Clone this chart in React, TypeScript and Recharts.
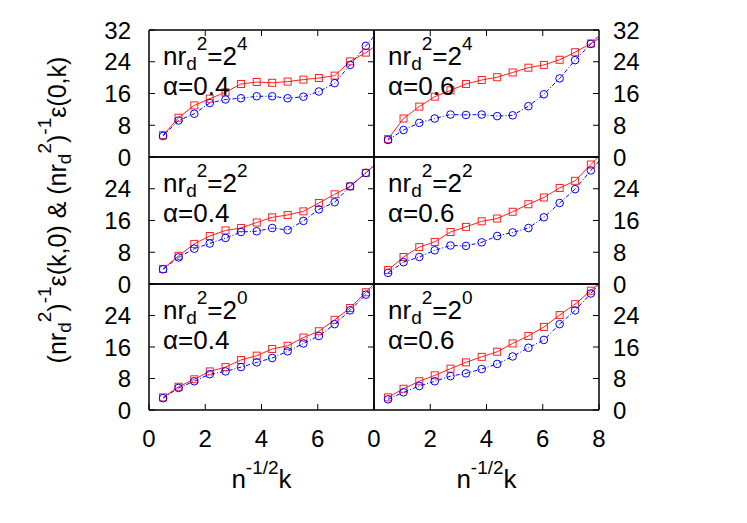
import { LineChart, Line, XAxis, YAxis } from "recharts";

// n^{-1/2} k sample positions (last one falls just past the frame and gets clipped)
const K = [0.5, 1.05, 1.61, 2.16, 2.72, 3.27, 3.83, 4.38, 4.93, 5.49, 6.04, 6.6, 7.15, 7.71, 8.26];

// eps(k,0) -> red squares, eps(0,k) -> blue circles
const RED_16_04 = [5.5, 9.9, 13.0, 14.7, 16.3, 18.4, 18.9, 18.7, 19.0, 19.5, 19.9, 20.5, 24.1, 26.3, 29.0];
const BLUE_16_04 = [5.3, 9.2, 10.9, 13.6, 14.5, 14.8, 15.3, 15.3, 14.8, 15.2, 16.5, 18.6, 23.2, 28.0, 32.5];
const RED_16_06 = [4.5, 9.7, 12.7, 15.2, 16.8, 18.4, 19.4, 20.1, 21.3, 22.5, 23.2, 24.5, 26.4, 28.6, 30.9];
const BLUE_16_06 = [4.3, 6.8, 8.6, 9.7, 10.7, 10.6, 10.7, 10.3, 10.5, 12.8, 15.8, 19.8, 24.4, 28.5, 32.5];
const RED_4_04 = [3.8, 7.1, 10.1, 12.1, 13.5, 14.1, 15.5, 16.8, 17.4, 18.3, 20.4, 22.6, 24.6, 28.0, 31.5];
const BLUE_4_04 = [3.7, 6.7, 8.9, 10.2, 11.6, 13.1, 13.3, 14.1, 13.6, 15.9, 18.8, 20.6, 24.6, 28.0, 31.5];
const RED_4_06 = [3.5, 6.8, 9.3, 10.6, 13.1, 14.4, 15.8, 16.5, 18.2, 20.1, 21.8, 24.2, 26.0, 30.1, 34.0];
const BLUE_4_06 = [2.8, 5.5, 6.8, 8.5, 9.7, 9.6, 10.5, 12.1, 13.0, 14.1, 16.8, 20.4, 23.9, 28.6, 33.0];
const RED_1_04 = [3.2, 5.9, 7.8, 9.8, 10.9, 12.7, 13.8, 15.5, 16.3, 18.4, 20.0, 22.9, 25.9, 29.9, 34.0];
const BLUE_1_04 = [3.0, 5.6, 7.3, 9.1, 9.8, 10.9, 12.1, 13.2, 14.9, 16.9, 18.8, 21.8, 25.3, 29.3, 33.5];
const RED_1_06 = [3.2, 5.4, 7.3, 8.8, 10.5, 12.1, 13.5, 14.8, 16.9, 18.8, 21.1, 24.1, 26.9, 30.3, 33.8];
const BLUE_1_06 = [2.7, 4.5, 6.1, 7.3, 8.6, 9.3, 10.4, 11.7, 13.6, 15.8, 17.8, 21.8, 25.3, 29.6, 34.0];

const POWERS = ["4", "2", "0"];
const ALPHAS = ["0.4", "0.6"];

const PANELS = [
  { row: 0, col: 0, red: RED_16_04, blue: BLUE_16_04 },
  { row: 0, col: 1, red: RED_16_06, blue: BLUE_16_06 },
  { row: 1, col: 0, red: RED_4_04, blue: BLUE_4_04 },
  { row: 1, col: 1, red: RED_4_06, blue: BLUE_4_06 },
  { row: 2, col: 0, red: RED_1_04, blue: BLUE_1_04 },
  { row: 2, col: 1, red: RED_1_06, blue: BLUE_1_06 },
];

const FONT = '"Liberation Sans", Arial, Helvetica, sans-serif';
const COL_LEFT = [149, 374];
const ROW_TOP = [30, 157, 284];
const ROW_H = [127, 127, 126];
const PLOT_W = 225;
const AXIS_W = 50;
const PAD = 15;
const SIDE_PAD = 20;

const tickStyle = { fill: "#000", fontSize: 24, fontFamily: FONT };
const frame = { stroke: "#000", strokeWidth: 1.5 };
const blank = () => "";

const Square = (props: any) => {
  const { cx, cy, index } = props;
  if (cx == null || cy == null) return <g key={`s${index}`} />;
  return (
    <rect key={`s${index}`} x={cx - 3.5} y={cy - 3.5} width={7} height={7}
      fill="none" stroke="#ff2020" strokeWidth={1} />
  );
};

const Circle = (props: any) => {
  const { cx, cy, index } = props;
  if (cx == null || cy == null) return <g key={`c${index}`} />;
  return (
    <circle key={`c${index}`} cx={cx} cy={cy} r={3.8}
      fill="none" stroke="#0000ff" strokeWidth={1} />
  );
};

function Panel({ p }: { p: (typeof PANELS)[number] }) {
  const isLeft = p.col === 0;
  const isTop = p.row === 0;
  const isBottom = p.row === 2;
  const h = ROW_H[p.row];
  const bottomH = isBottom ? AXIS_W : 1;
  const width = SIDE_PAD + AXIS_W + PLOT_W + 1 + SIDE_PAD;
  const height = PAD + 1 + h + bottomH + PAD;
  const left = isLeft ? COL_LEFT[0] - AXIS_W - SIDE_PAD : COL_LEFT[1] - 1 - SIDE_PAD;
  const top = ROW_TOP[p.row] - 1 - PAD;
  const yTicks = isTop ? [0, 8, 16, 24, 32] : [0, 8, 16, 24];
  const xTicks = isLeft ? [0, 2, 4, 6] : [0, 2, 4, 6, 8];

  const data = K.map((x, i) => ({ x, red: p.red[i], blue: p.blue[i] }));

  return (
    <div style={{ position: "absolute", left, top }}>
      <LineChart width={width} height={height} data={data}
        margin={{ top: PAD, bottom: PAD, left: SIDE_PAD, right: SIDE_PAD }}>
        <XAxis xAxisId="b" type="number" dataKey="x" domain={[0, 8]} allowDataOverflow
          orientation="bottom" height={bottomH} stroke="#000" axisLine={frame}
          ticks={isBottom ? xTicks : [2, 4, 6]}
          tick={isBottom ? tickStyle : false} tickLine={isBottom ? { stroke: "#000" } : false}
          tickSize={-6} tickMargin={26} interval={0} />
        <XAxis xAxisId="t" type="number" dataKey="x" domain={[0, 8]} allowDataOverflow
          orientation="top" height={1} stroke="#000" axisLine={frame}
          ticks={[2, 4, 6]} tickFormatter={blank}
          tick={isTop ? tickStyle : false} tickLine={isTop ? { stroke: "#000" } : false}
          tickSize={-6} interval={0} />
        {isLeft ? (
          <YAxis yAxisId="l" type="number" domain={[0, 32]} allowDataOverflow orientation="left"
            width={AXIS_W} stroke="#000" axisLine={frame} ticks={yTicks} interval={0}
            tick={tickStyle} tickLine={{ stroke: "#000" }} tickSize={-6} tickMargin={24} />
        ) : (
          <YAxis yAxisId="l" type="number" domain={[0, 32]} allowDataOverflow orientation="left"
            width={1} stroke="#000" axisLine={frame} tick={false} tickLine={false} />
        )}
        {isLeft ? (
          <YAxis yAxisId="r" type="number" domain={[0, 32]} allowDataOverflow orientation="right"
            width={1} stroke="#000" axisLine={frame} ticks={[8, 16, 24]} interval={0}
            tickFormatter={blank} tick={tickStyle} tickLine={{ stroke: "#000" }} tickSize={-6} />
        ) : (
          <YAxis yAxisId="r" type="number" domain={[0, 32]} allowDataOverflow orientation="right"
            width={AXIS_W} stroke="#000" axisLine={frame} ticks={yTicks} interval={0}
            tick={tickStyle} tickLine={{ stroke: "#000" }} tickSize={-6} tickMargin={20} />
        )}
        <Line xAxisId="b" yAxisId="l" dataKey="red" stroke="#ff2020" strokeWidth={1}
          dot={Square} activeDot={false} isAnimationActive={false} />
        <Line xAxisId="b" yAxisId="l" dataKey="blue" stroke="#0000ff" strokeWidth={1}
          strokeDasharray="4 2 1 2" dot={Circle} activeDot={false} isAnimationActive={false} />
      </LineChart>
    </div>
  );
}

function PanelLabel({ row, col }: { row: number; col: number }) {
  const x = COL_LEFT[col] + 14;
  const y = ROW_TOP[row] + 35;
  return (
    <g>
      <text x={x} y={y} fontSize={26} fontFamily={FONT} fill="#000">
        nr<tspan dy={5} fontSize={19}>d</tspan>
        <tspan dy={-20} fontSize={19}>2</tspan>
        <tspan dy={15} fontSize={26}>=2</tspan>
        <tspan dy={-15} fontSize={19}>{POWERS[row]}</tspan>
      </text>
      <text x={x} y={y + 30} fontSize={26} fontFamily={FONT} fill="#000">
        α={ALPHAS[col]}
      </text>
    </g>
  );
}

export default function App() {
  return (
    <div style={{ position: "absolute", left: 0, top: 0, width: 747, height: 523, background: "#fff" }}>
      {PANELS.map((p) => (
        <Panel key={`${p.row}-${p.col}`} p={p} />
      ))}
      <svg width={747} height={523}
        style={{ position: "absolute", left: 0, top: 0, pointerEvents: "none" }}>
        {PANELS.map((p) => (
          <PanelLabel key={`lab-${p.row}-${p.col}`} row={p.row} col={p.col} />
        ))}
        {[0, 1].map((c) => (
          <text key={`xl${c}`} x={COL_LEFT[c] + PLOT_W / 2} y={488} textAnchor="middle"
            fontSize={26} fontFamily={FONT} fill="#000">
            n<tspan dy={-14} fontSize={19}>-1/2</tspan>
            <tspan dy={14} fontSize={26}>k</tspan>
          </text>
        ))}
        <text transform="translate(66,210) rotate(-90)" textAnchor="middle"
          fontSize={25} fontFamily={FONT} fill="#000">
          (nr<tspan dy={5} fontSize={19}>d</tspan>
          <tspan dy={-20} fontSize={19}>2</tspan>
          <tspan dy={15} fontSize={25}>)</tspan>
          <tspan dy={-15} fontSize={19}>-1</tspan>
          <tspan dy={15} fontSize={25}>ε(k,0) &amp; (nr</tspan>
          <tspan dy={5} fontSize={19}>d</tspan>
          <tspan dy={-20} fontSize={19}>2</tspan>
          <tspan dy={15} fontSize={25}>)</tspan>
          <tspan dy={-15} fontSize={19}>-1</tspan>
          <tspan dy={15} fontSize={25}>ε(0,k)</tspan>
        </text>
      </svg>
    </div>
  );
}
